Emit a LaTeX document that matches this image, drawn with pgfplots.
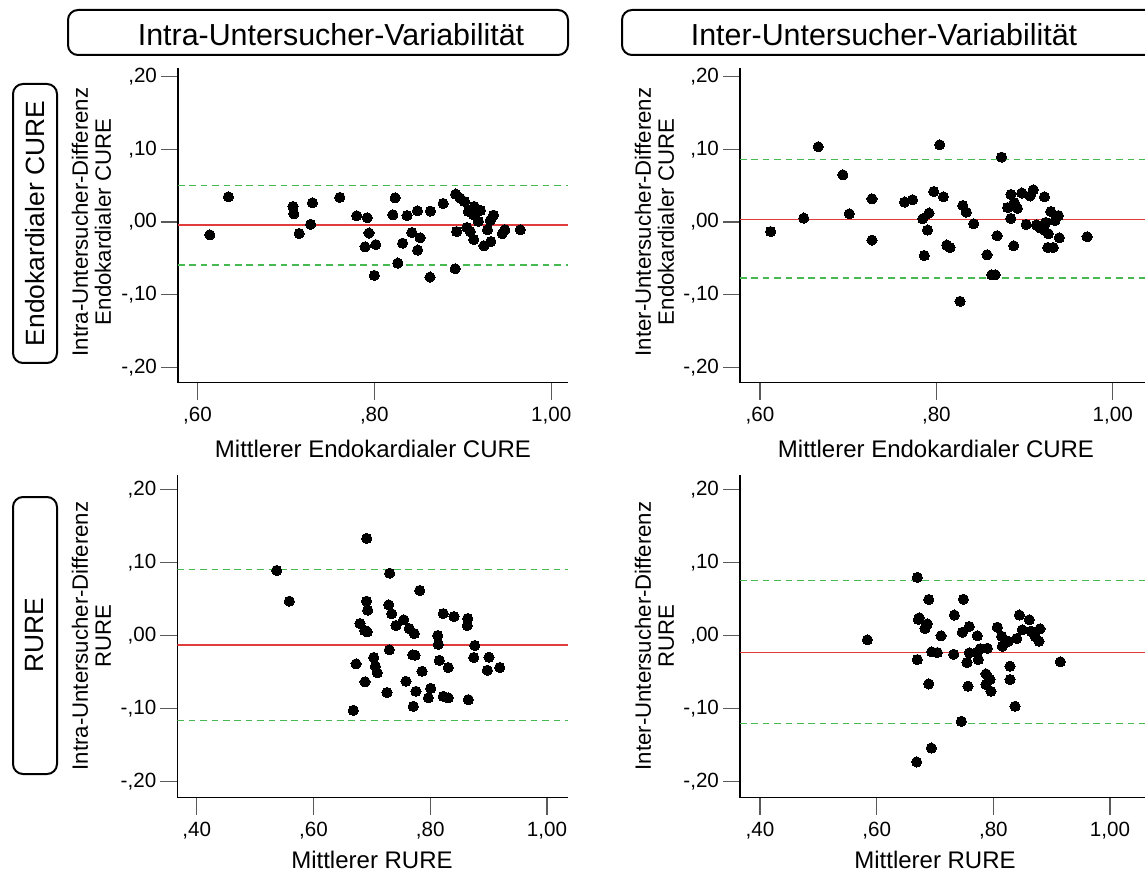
\documentclass[border=0pt]{standalone}
\usepackage{pgfplots}
\pgfplotsset{compat=1.18}
\usepackage{fontspec}
\setmainfont{Liberation Sans}
\definecolor{refgreen}{RGB}{70,185,80}
\definecolor{refred}{RGB}{225,60,60}
\definecolor{tickgray}{RGB}{90,90,90}
\pgfplotsset{
  baplot/.style={
    scale only axis,
    axis x line*=bottom, axis y line*=left,
    axis line style={black, line width=0.6pt, -},
    tick align=outside,
    major tick length=8.5pt,
    tick style={tickgray, line width=0.6pt},
    ticklabel style={font=\fontsize{10.3}{12}\selectfont},
    yticklabel style={xshift=1.5pt},
    ytick={-0.2,-0.1,0,0.1,0.2},
    yticklabels={{-,20},{-,10},{,00},{,10},{,20}},
  },
  pts/.style={only marks, mark=*, mark size=2.55pt, mark options={fill=black, draw=black, line width=0pt}},
  limg/.style={refgreen, line width=0.6pt, dash pattern=on 3.3pt off 2.4pt, forget plot},
  limr/.style={refred, line width=0.65pt, forget plot},
}
\begin{document}
\begin{tikzpicture}
\path[use as bounding box] (0,0) rectangle (572.5pt,437pt);
% ---------------- top-left
\begin{axis}[baplot, at={(89pt,245.65pt)}, anchor=south west, width=195pt, height=157.35pt,
  xmin=0.578, xmax=1.019, ymin=-0.221, ymax=0.212,
  xtick={0.6,0.8,1.0}, xticklabels={{,60},{,80},{1,00}}]
\addplot[limg] coordinates {(0.578,0.050) (1.019,0.050)};
\addplot[limg] coordinates {(0.578,-0.059) (1.019,-0.059)};
\addplot[limr] coordinates {(0.578,-0.004) (1.019,-0.004)};
\addplot[pts] coordinates {(0.614,-0.0175) (0.635,0.0348) (0.708,0.0215) (0.709,0.0114) (0.715,-0.0157) (0.730,0.0265) (0.728,-0.003) (0.761,0.034) (0.780,0.0087) (0.792,0.006) (0.794,-0.015) (0.7895,-0.034) (0.800,-0.0734) (0.8016,-0.031) (0.8235,0.0334) (0.821,0.010) (0.8265,-0.0564) (0.832,-0.029) (0.837,0.009) (0.8424,-0.0143) (0.8487,0.0155) (0.8518,-0.0216) (0.849,-0.0385) (0.863,-0.0757) (0.8634,0.0151) (0.8778,0.0256) (0.892,0.0385) (0.897,0.033) (0.902,0.0283) (0.893,-0.013) (0.8914,-0.0642) (0.9046,-0.0074) (0.9085,-0.013) (0.9064,0.0146) (0.913,0.0215) (0.912,0.010) (0.920,0.016) (0.9177,0.001) (0.9125,-0.024) (0.928,-0.0106) (0.924,-0.0326) (0.9318,-0.0267) (0.931,0.002) (0.9347,0.0096) (0.9446,-0.016) (0.9476,-0.0106) (0.965,-0.0106)};
\end{axis}
% ---------------- top-right
\begin{axis}[baplot, at={(370pt,245.65pt)}, anchor=south west, width=202.5pt, height=157.35pt,
  xmin=0.5773, xmax=1.0367, ymin=-0.221, ymax=0.212,
  xtick={0.6,0.8,1.0}, xticklabels={{,60},{,80},{1,00}}]
\addplot[limg] coordinates {(0.5773,0.0857) (1.0367,0.0857)};
\addplot[limg] coordinates {(0.5773,-0.077) (1.0367,-0.077)};
\addplot[limr] coordinates {(0.5773,0.004) (1.0367,0.004)};
\addplot[pts] coordinates {(0.612,-0.013) (0.6496,0.0055) (0.666,0.1036) (0.694,0.065) (0.7013,0.0114) (0.727,0.032) (0.727,-0.0248) (0.764,0.0275) (0.773,0.0307) (0.7846,0.0045) (0.7917,0.0124) (0.790,-0.011) (0.7864,-0.046) (0.797,0.042) (0.8038,0.1063) (0.808,0.0348) (0.8118,-0.0316) (0.8155,-0.035) (0.83,0.0228) (0.834,0.0137) (0.8424,-0.0023) (0.8269,-0.109) (0.8575,-0.045) (0.8689,-0.0188) (0.8628,-0.0725) (0.8666,-0.0725) (0.874,0.0894) (0.8846,0.038) (0.8808,0.020) (0.8884,0.027) (0.8919,0.019) (0.8844,0.005) (0.8878,-0.0326) (0.8969,0.040) (0.9063,0.036) (0.910,0.0444) (0.902,-0.0033) (0.9135,-0.004) (0.9177,-0.008) (0.9226,0.0348) (0.924,-0.0005) (0.9222,-0.0106) (0.927,-0.016) (0.9298,0.0146) (0.9358,0.0077) (0.9384,0.009) (0.9347,0.0022) (0.9264,-0.035) (0.9327,-0.035) (0.9395,-0.0216) (0.971,-0.0202)};
\end{axis}
% ---------------- bottom-left
\begin{axis}[baplot, at={(88.65pt,38.15pt)}, anchor=south west, width=195.35pt, height=161.35pt,
  xmin=0.3668, xmax=1.036, ymin=-0.2219, ymax=0.2196,
  xtick={0.4,0.6,0.8,1.0}, xticklabels={{,40},{,60},{,80},{1,00}}]
\addplot[limg] coordinates {(0.3668,0.090) (1.036,0.090)};
\addplot[limg] coordinates {(0.3668,-0.116) (1.036,-0.116)};
\addplot[limr] coordinates {(0.3668,-0.0128) (1.036,-0.0128)};
\addplot[pts] coordinates {(0.537,0.089) (0.5586,0.047) (0.6912,0.1329) (0.7306,0.0853) (0.691,0.047) (0.6929,0.0347) (0.6797,0.0164) (0.6922,0.005) (0.6877,0.0068) (0.7289,0.042) (0.734,0.0297) (0.7414,0.0137) (0.7546,0.0215) (0.764,0.0096) (0.7728,0.0027) (0.782,0.0616) (0.73,-0.0196) (0.7032,-0.030) (0.706,-0.042) (0.7094,-0.051) (0.673,-0.0388) (0.6883,-0.0634) (0.6683,-0.1023) (0.726,-0.078) (0.7585,-0.0626) (0.770,-0.0264) (0.774,-0.027) (0.7756,-0.0763) (0.771,-0.0968) (0.786,-0.0489) (0.8224,0.030) (0.8407,0.026) (0.8642,0.0233) (0.8635,0.0137) (0.8128,0.0) (0.8139,-0.012) (0.8762,-0.0137) (0.8156,-0.034) (0.831,-0.0438) (0.8745,-0.030) (0.9007,-0.0297) (0.8978,-0.0475) (0.919,-0.0438) (0.8008,-0.0722) (0.7968,-0.0853) (0.8224,-0.0832) (0.831,-0.0853) (0.8653,-0.0877)};
\end{axis}
% ---------------- bottom-right
\begin{axis}[baplot, at={(370pt,38.15pt)}, anchor=south west, width=202.5pt, height=161.35pt,
  xmin=0.3657, xmax=1.060, ymin=-0.2219, ymax=0.2196,
  xtick={0.4,0.6,0.8,1.0}, xticklabels={{,40},{,60},{,80},{1,00}}]
\addplot[limg] coordinates {(0.3657,0.075) (1.060,0.075)};
\addplot[limg] coordinates {(0.3657,-0.120) (1.060,-0.120)};
\addplot[limr] coordinates {(0.3657,-0.0229) (1.060,-0.0229)};
\addplot[pts] coordinates {(0.584,-0.0059) (0.6697,0.0795) (0.6892,0.0493) (0.7486,0.0497) (0.673,0.0242) (0.6714,0.022) (0.6868,0.016) (0.6829,0.0096) (0.7103,-0.0004) (0.7331,0.028) (0.7468,0.0045) (0.7588,0.0123) (0.7725,-0.0004) (0.6943,-0.0223) (0.704,-0.0233) (0.7321,-0.0256) (0.7588,-0.0237) (0.7715,-0.0229) (0.7549,-0.037) (0.7743,-0.0329) (0.6697,-0.0329) (0.6892,-0.0662) (0.7566,-0.0694) (0.7451,-0.1174) (0.6937,-0.1539) (0.6686,-0.173) (0.7772,-0.0182) (0.7897,-0.0174) (0.7874,-0.0525) (0.7943,-0.0603) (0.7874,-0.0671) (0.796,-0.0763) (0.8068,0.0114) (0.8143,-0.001) (0.8154,-0.0146) (0.8257,-0.0078) (0.84,-0.0041) (0.8286,-0.042) (0.8286,-0.0603) (0.8372,-0.0968) (0.8446,0.028) (0.8497,0.0078) (0.8617,0.0215) (0.8646,0.0059) (0.8715,-0.001) (0.88,0.0092) (0.8783,-0.0078) (0.9148,-0.036)};
\end{axis}
% ---------------- labels and frames (pixel coordinates, y downward)
\begin{scope}[x=0.5pt, y=-0.5pt, shift={(0pt,437pt)}]
\draw[rounded corners=5pt, line width=1pt] (68,10) rectangle (568,55);
\node[anchor=base, font=\fontsize{15.2}{18}\selectfont] at (331,46) {Intra-Untersucher-Variabilität};
\draw[rounded corners=5pt, line width=1pt] (622,10) rectangle (1160,55);
\node[anchor=base, font=\fontsize{15.2}{18}\selectfont] at (884,46) {Inter-Untersucher-Variabilität};
\draw[rounded corners=5pt, line width=1pt] (13,84) rectangle (57,363);
\node[rotate=90, font=\fontsize{13.2}{15}\selectfont] at (35,223.5) {Endokardialer CURE};
\draw[rounded corners=5pt, line width=1pt] (13,497) rectangle (57,774);
\node[rotate=90, font=\fontsize{13.2}{15}\selectfont] at (35,635.5) {RURE};
\node[rotate=90, align=center, font=\fontsize{11.1}{11.5}\selectfont] at (91.5,222) {Intra-Untersucher-Differenz\\Endokardialer CURE};
\node[rotate=90, align=center, font=\fontsize{11.1}{11.5}\selectfont] at (654.5,222) {Inter-Untersucher-Differenz\\Endokardialer CURE};
\node[rotate=90, align=center, font=\fontsize{11.1}{11.5}\selectfont] at (91.5,636) {Intra-Untersucher-Differenz\\RURE};
\node[rotate=90, align=center, font=\fontsize{11.1}{11.5}\selectfont] at (654.5,636) {Inter-Untersucher-Differenz\\RURE};
\node[anchor=base, font=\fontsize{12}{14}\selectfont] at (373,457) {Mittlerer Endokardialer CURE};
\node[anchor=base, font=\fontsize{12}{14}\selectfont] at (936,457) {Mittlerer Endokardialer CURE};
\node[anchor=base, font=\fontsize{12}{14}\selectfont] at (372,868) {Mittlerer RURE};
\node[anchor=base, font=\fontsize{12}{14}\selectfont] at (935,868) {Mittlerer RURE};
\end{scope}
\end{tikzpicture}
\end{document}
